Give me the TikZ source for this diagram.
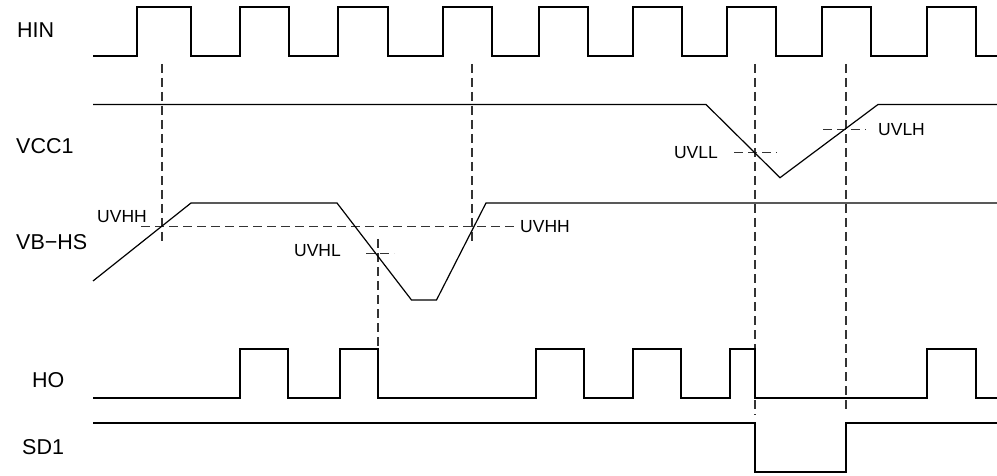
\documentclass[tikz,border=0pt]{standalone}
\usepackage{fontspec}
\setmainfont{Liberation Sans}
\begin{document}
\begin{tikzpicture}[x=1pt,y=-1pt,
  wave/.style={line width=1.2pt, black, line join=miter},
  guide/.style={line width=1.1pt, black!80, dash pattern=on 9pt off 5pt},
  siglabel/.style={font=\fontsize{21.5}{25}\selectfont, anchor=west, inner sep=0pt},
  lvl/.style={font=\fontsize{17.5}{20}\selectfont, inner sep=0pt}]
\useasboundingbox (0,0) rectangle (997,476);

% signal names
\node[siglabel] (hin) at (17,30.5) {HIN};
\node[siglabel] (vcc) at (16,145.7) {VCC1};
\node[siglabel] (vbhs) at (16,241.7) {VB−HS};
\node[siglabel] (ho) at (32,380) {HO};
\node[siglabel] (sd) at (22,446.7) {SD1};

% level labels
\node[lvl, anchor=east] (uvhhL) at (147,217) {UVHH};
\node[lvl, anchor=west] (uvhhR) at (520,227) {UVHH};
\node[lvl, anchor=east] (uvhl) at (341,251) {UVHL};
\node[lvl, anchor=east] (uvll) at (718,153) {UVLL};
\node[lvl, anchor=west] (uvlh) at (878,129.5) {UVLH};

% guides
\coordinate (g1t) at (162,64);  \coordinate (g1b) at (162,245);
\coordinate (g2t) at (472,64);  \coordinate (g2b) at (472,245);
\coordinate (g3t) at (755,64);  \coordinate (g3b) at (755,415);
\coordinate (g4t) at (846,64);  \coordinate (g4b) at (846,411);
\coordinate (g5t) at (378,239); \coordinate (g5b) at (378,349);
\draw[guide] (g1t) -- (g1b);
\draw[guide] (g2t) -- (g2b);
\draw[guide] (g3t) -- (g3b);
\draw[guide] (g4t) -- (g4b);
\draw[guide] (g5t) -- (g5b);
\coordinate (h1a) at (141,226.7); \coordinate (h1b) at (514,226.7);
\coordinate (h2a) at (366,253.3); \coordinate (h2b) at (394,253.3);
\coordinate (h3a) at (734,152.8); \coordinate (h3b) at (777,152.8);
\coordinate (h4a) at (823,129.5); \coordinate (h4b) at (866,129.5);
\draw[guide] (h1a) -- (h1b);
\draw[guide] (h2a) -- (h2b);
\draw[guide] (h3a) -- (h3b);
\draw[guide] (h4a) -- (h4b);

% HIN
\draw[wave] (93,56)
  \foreach \r/\f in {137/191,240/289,338/388,443/492,539/588,633/682,727/776,822/871,927/976}
  { -- (\r,56) -- (\r,7) -- (\f,7) -- (\f,56) } -- (997,56);

% VCC1
\draw[wave] (93,104.5) -- (706,104.5) -- (780,177.7) -- (878,104.5) -- (997,104.5);

% VB-HS
\draw[wave] (93,281) -- (191,203) -- (337,203) -- (411.5,300) -- (436.5,300) -- (486,203) -- (997,203);

% HO
\draw[wave] (93,398)
  \foreach \r/\f in {240/288,340/378,536/584,633/681,730/755,927/976}
  { -- (\r,398) -- (\r,349) -- (\f,349) -- (\f,398) } -- (997,398);

% SD1
\draw[wave] (93,423) -- (755,423) -- (755,472) -- (846,472) -- (846,423) -- (997,423);
\end{tikzpicture}
\end{document}
